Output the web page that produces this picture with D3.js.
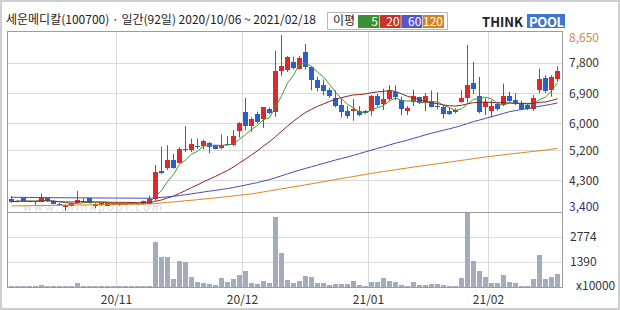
<!DOCTYPE html>
<html>
<head>
<meta charset="utf-8">
<script src="https://cdn.jsdelivr.net/npm/d3@7/dist/d3.min.js"></script>
<style>
    body { margin: 0; background: #fff; }
    svg text { font-family: "Noto Sans CJK KR", "DejaVu Sans", sans-serif; }
</style>
</head>
<body>
<div id="chart"></div>
<script>
// Daily candles, 2020/10/06 .. 2021/02/18 (92 sessions)
var opens = [3750,3680,3780,3690,3670,3680,3790,3700,3620,3520,3560,3640,3700,3780,3560,3570,3560,3630,3570,3620,3630,3600,3700,3620,
    3745,4580,4670,4920,4840,5250,5220,5350,5350,5420,5360,5280,5400,5360,5790,6350,5940,6280,6130,6430,6360,7580,7600,7850,7650,8150,
    7700,7320,7150,7020,6760,6550,6380,6380,6390,6390,6380,6830,6590,6730,6950,6710,6370,6660,6790,6640,6680,6520,6510,6380,6350,6660,
    6760,7220,6830,6490,6390,6590,6560,6830,6710,6610,6560,6430,7020,7380,7020,7350];
var highs = [3850,3720,3800,3710,3700,3920,3810,3720,3640,3600,3650,4000,3780,3790,3630,3650,3650,3640,3640,3630,3640,3640,3710,3860,
    4770,5320,5360,5100,5300,5930,5560,5560,5530,5460,5370,5680,5630,5810,6050,6770,6190,6360,6490,6490,8180,8650,8020,8000,8020,8380,
    7720,7400,7320,7080,7000,6760,6530,6740,6530,6410,6860,6890,7050,7150,7150,6810,6530,7020,6810,6920,7000,6940,6560,6480,6460,7000,
    8350,7850,7400,6760,6710,6630,7200,6950,6910,6690,6590,6860,7650,7450,7450,7720];
var lows = [3650,3660,3690,3670,3580,3670,3670,3600,3560,3400,3540,3620,3660,3620,3480,3550,3550,3570,3560,3600,3600,3590,3590,3600,
    3705,4500,4620,4670,4820,5160,5160,5250,5240,5120,5240,5240,5360,5330,5590,5810,5760,6010,5880,6290,6210,7420,7550,7620,7620,7620,
    7000,6970,6850,6780,6490,6190,6160,6090,6230,6310,6240,6510,6410,6690,6710,6260,6260,6530,6590,6380,6490,6430,6160,6260,6310,6630,
    6630,6890,6310,6260,6190,6390,6530,6660,6560,6410,6410,6390,6910,6920,6810,7250];
var closes = [3680,3700,3700,3690,3690,3780,3690,3620,3580,3590,3630,3740,3690,3640,3620,3630,3640,3580,3630,3620,3610,3630,3600,3760,
    4550,4540,4920,4690,5240,5220,5410,5340,5490,5320,5260,5380,5390,5650,6030,5940,6130,6040,6490,6310,7570,7720,7980,7670,7950,7700,
    7300,7080,6970,6840,6530,6340,6230,6430,6260,6330,6830,6560,6730,6970,6790,6430,6470,6830,6630,6830,6510,6490,6290,6290,6410,6770,
    7150,7050,6360,6640,6530,6430,6830,6690,6610,6430,6430,6780,7350,6980,7400,7570];
// volume in units of 10,000 shares
var volumes = [60,50,55,45,40,120,60,50,45,55,50,240,50,45,50,40,45,40,45,35,40,45,50,60,
    2520,1650,1650,460,1460,1410,580,300,220,170,110,500,260,460,690,910,220,190,350,210,3880,1880,390,240,350,630,
    580,220,220,130,170,170,170,350,130,75,260,260,500,350,260,130,75,300,110,110,170,170,130,75,75,480,
    4100,1430,870,580,210,210,690,260,210,75,75,450,1800,450,580,720];
// 60- and 120-day moving averages as drawn (their windows reach back before the chart)
var ma60 = [3810,3808,3806,3804,3802,3800,3798,3797,3796,3795,3794,3793,3792,3791,3790,3789,3788,3787,3786,3785,3784,3783,3782,3780,
    3792,3805,3823,3838,3862,3886,3913,3938,3967,3992,4016,4043,4069,4100,4137,4173,4212,4249,4294,4336,4392,4450,4510,4565,4620,4670,
    4720,4770,4820,4870,4920,4965,5010,5060,5112,5166,5218,5266,5316,5371,5423,5467,5513,5567,5618,5672,5720,5765,5809,5853,5899,5952,
    6010,6068,6114,6164,6213,6260,6313,6362,6396,6428,6453,6488,6523,6553,6586,6623];
var ma120 = [3550,3553,3555,3558,3560,3563,3566,3568,3571,3574,3576,3579,3582,3584,3587,3590,3592,3595,3598,3600,3603,3606,3608,3612,
    3622,3638,3654,3670,3688,3705,3720,3738,3756,3774,3792,3810,3830,3850,3870,3890,3910,3940,3970,4000,4030,4060,4090,4120,4150,4180,
    4210,4242,4274,4306,4338,4370,4400,4430,4460,4490,4520,4550,4578,4605,4632,4658,4684,4710,4735,4760,4785,4810,4835,4860,4885,4910,
    4935,4960,4985,5010,5032,5054,5076,5098,5118,5138,5158,5178,5198,5218,5241,5265];

var priceTicks = [8650, 7800, 6900, 6000, 5200, 4300, 3400];
var priceGrid = [7800, 6900, 6000, 5200, 4300];
var volTicks = [2774, 1390];
var monthIdx = [18, 39, 60, 80];
var monthLabels = ['20/11', '20/12', '21/01', '21/02'];
var maPeriods = ['5', '20', '60', '120'];

(function () {
    var W = 620, H = 310;
    var LEFT = 8, RIGHT = 560;
    var PLOT_L = 7.5, PLOT_R = 562.5, PLOT_T = 31.5, SPLIT = 212.5, PLOT_B = 287.5;
    var UP = '#dc2a2c', DOWN = '#2a5fcc';
    var MA_COLORS = ['#3f9a3a', '#8c2424', '#4a4aae', '#d8861e'];
    var LEGEND_BG = ['#3c8f32', '#c8322c', '#5656c6', '#d4841c'];
    var GRID = '#dadada', FRAME = '#9c9c9c';

    var n = closes.length;
    var svg = d3.select('#chart').append('svg')
        .attr('width', W).attr('height', H)
        .attr('viewBox', [0, 0, W, H]);

    var x = d3.scaleBand().domain(d3.range(n)).range([LEFT, RIGHT]).padding(0);
    var xl = d3.scaleLinear().domain([0, n]).range([LEFT, RIGHT]);
    var y = d3.scaleLinear().domain([3400, 8650]).range([211, 35]);
    var yv = d3.scaleLinear().domain([0, 4160]).range([287, 212]);

    function movingAvg(vals, p) {
        return vals.map(function (v, i) {
            return d3.mean(vals.slice(Math.max(0, i - p + 1), i + 1));
        });
    }
    var maSeries = [movingAvg(closes, 5), movingAvg(closes, 20), ma60, ma120];

    // outer frame
    svg.append('rect').attr('x', 1).attr('y', 1).attr('width', W - 2).attr('height', H - 2)
        .attr('fill', '#fff').attr('stroke', '#cfcfcf').attr('stroke-width', 2);

    // grid
    var grid = svg.append('g').attr('shape-rendering', 'crispEdges');
    grid.selectAll('line.h').data(priceGrid).join('line')
        .attr('x1', PLOT_L).attr('x2', PLOT_R)
        .attr('y1', function (d) { return Math.floor(y(d)) + 0.5; })
        .attr('y2', function (d) { return Math.floor(y(d)) + 0.5; })
        .attr('stroke', GRID);
    grid.selectAll('line.vh').data(volTicks).join('line')
        .attr('x1', PLOT_L).attr('x2', PLOT_R)
        .attr('y1', function (d) { return Math.round(yv(d)) + 0.5; })
        .attr('y2', function (d) { return Math.round(yv(d)) + 0.5; })
        .attr('stroke', GRID);
    grid.selectAll('line.v').data(monthIdx).join('line')
        .attr('x1', function (d) { return x(d) + 0.5; })
        .attr('x2', function (d) { return x(d) + 0.5; })
        .attr('y1', PLOT_T).attr('y2', PLOT_B)
        .attr('stroke', GRID);

    // watermark (very faint)
    svg.append('text').attr('x', 23).attr('y', 211)
        .attr('textLength', 139).attr('lengthAdjust', 'spacing')
        .attr('font-size', 11).attr('fill', '#dcdcdc')
        .text('www.thinkpool.com');

    // volume bars
    svg.append('g').attr('shape-rendering', 'crispEdges')
        .selectAll('rect').data(volumes).join('rect')
        .attr('x', function (d, i) { return x(i) + 1; })
        .attr('width', x.bandwidth() - 1)
        .attr('y', function (d) { return Math.round(yv(d)); })
        .attr('height', function (d) { return 287 - Math.round(yv(d)); })
        .attr('fill', '#a4abba');

    // candles
    var candles = svg.append('g').selectAll('g').data(d3.range(n)).join('g');
    function colorOf(i) { return closes[i] >= opens[i] ? UP : DOWN; }
    candles.append('line')
        .attr('x1', function (i) { return x(i) + 3.5; })
        .attr('x2', function (i) { return x(i) + 3.5; })
        .attr('y1', function (i) { return y(highs[i]); })
        .attr('y2', function (i) { return y(lows[i]); })
        .attr('stroke', colorOf);
    candles.append('rect')
        .attr('shape-rendering', 'crispEdges')
        .attr('x', function (i) { return x(i) + 1; })
        .attr('width', x.bandwidth() - 1)
        .attr('y', function (i) { return Math.round(y(Math.max(opens[i], closes[i]))); })
        .attr('height', function (i) {
            return Math.max(1, Math.round(y(Math.min(opens[i], closes[i]))) - Math.round(y(Math.max(opens[i], closes[i]))));
        })
        .attr('fill', colorOf);

    // moving averages
    var line = d3.line()
        .x(function (d, i) { return x(i) + 3.5; })
        .y(function (d) { return y(d); });
    svg.append('g').selectAll('path').data(maSeries).join('path')
        .attr('d', line)
        .attr('fill', 'none')
        .attr('stroke', function (d, k) { return MA_COLORS[k]; })
        .attr('stroke-width', 1);

    // panel frames
    var frame = svg.append('g').attr('shape-rendering', 'crispEdges')
        .attr('fill', 'none').attr('stroke', FRAME);
    frame.append('rect').attr('x', PLOT_L).attr('y', PLOT_T)
        .attr('width', PLOT_R - PLOT_L).attr('height', PLOT_B - PLOT_T);
    frame.append('line').attr('x1', PLOT_L).attr('x2', PLOT_R)
        .attr('y1', SPLIT).attr('y2', SPLIT);

    // right price axis
    var pAxis = svg.append('g').attr('transform', 'translate(562,0)')
        .call(d3.axisRight(y).tickValues(priceTicks).tickSize(0).tickPadding(7).tickFormat(d3.format(',')));
    pAxis.select('.domain').remove();
    pAxis.selectAll('.tick')
        .attr('transform', function (d) {
            return 'translate(0,' + Math.min(207, Math.max(38, y(d))) + ')';
        });
    pAxis.selectAll('text')
        .attr('font-size', 12)
        .attr('font-family', '"Noto Sans CJK KR", sans-serif')
        .attr('fill', function (d) { return d === 8650 ? '#d08846' : d === 3400 ? '#2e2e8c' : '#333'; });

    var vAxis = svg.append('g').attr('transform', 'translate(562,0)')
        .call(d3.axisRight(yv).tickValues(volTicks).tickSize(0).tickPadding(8).tickFormat(d3.format('d')));
    vAxis.select('.domain').remove();
    vAxis.selectAll('text').attr('font-size', 12)
        .attr('font-family', '"Noto Sans CJK KR", sans-serif').attr('fill', '#333');
    svg.append('text').attr('x', 576).attr('y', 290)
        .attr('font-size', 12).attr('fill', '#333').text('x10000');

    // bottom date axis
    var xAxis = svg.append('g').attr('transform', 'translate(0,287)')
        .call(d3.axisBottom(xl).tickValues(monthIdx).tickSize(0).tickPadding(8)
            .tickFormat(function (d, k) { return monthLabels[k]; }));
    xAxis.select('.domain').remove();
    xAxis.selectAll('text').attr('font-size', 12)
        .attr('font-family', '"Noto Sans CJK KR", sans-serif').attr('fill', '#333');

    // header title
    svg.append('text').attr('x', 6).attr('y', 24)
        .attr('font-size', 12).attr('fill', '#222')
        .text('세운메디칼(100700) · 일간(92일) 2020/10/06 ~ 2021/02/18');

    // MA legend
    var lg = svg.append('g').attr('transform', 'translate(327,12)');
    lg.append('rect').attr('x', 0.5).attr('y', 0.5).attr('width', 120).attr('height', 17)
        .attr('fill', '#fff').attr('stroke', '#b8b8b8');
    lg.append('text').attr('x', 6).attr('y', 13).attr('font-size', 12).attr('fill', '#222').text('이평');
    var lgx = d3.scaleBand().domain(maPeriods).range([31, 117]).paddingInner(0.03);
    var item = lg.selectAll('g.item').data(maPeriods).join('g');
    item.append('rect')
        .attr('x', function (d) { return lgx(d); }).attr('y', 3)
        .attr('width', lgx.bandwidth()).attr('height', 13)
        .attr('fill', function (d, k) { return LEGEND_BG[k]; });
    item.append('text')
        .attr('x', function (d) { return lgx(d) + lgx.bandwidth() - 1; }).attr('y', 14)
        .attr('text-anchor', 'end').attr('font-size', 12).attr('fill', '#fff')
        .text(function (d) { return d; });

    // THINKPOOL logo
    var logo = svg.append('g').attr('transform', 'translate(482,14)');
    logo.append('text').attr('x', 0).attr('y', 13)
        .attr('font-family', '"DejaVu Sans", sans-serif').attr('font-weight', 'bold')
        .attr('font-size', 13).attr('fill', '#222')
        .text('THINK');
    logo.append('rect').attr('x', 45).attr('y', 0).attr('width', 38).attr('height', 14).attr('fill', '#3f74cf');
    logo.append('text').attr('x', 47).attr('y', 12.5)
        .attr('font-family', '"DejaVu Sans", sans-serif').attr('font-weight', 'bold')
        .attr('font-size', 13).attr('fill', '#fff').attr('textLength', 35)
        .text('POOL');
}());
</script>
</body>
</html>
